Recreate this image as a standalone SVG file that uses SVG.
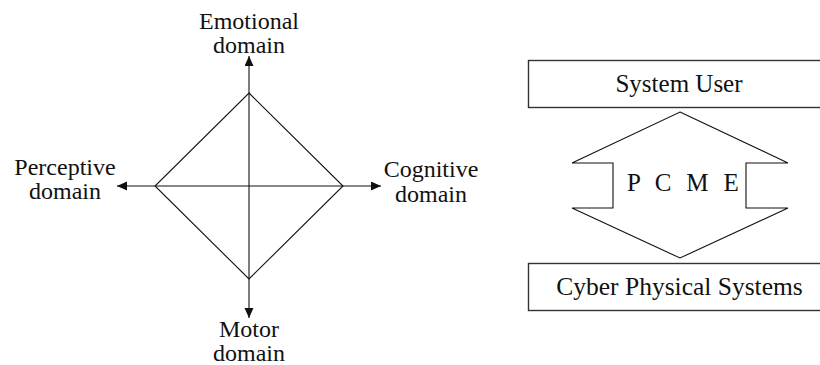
<svg xmlns="http://www.w3.org/2000/svg" width="820" height="365" viewBox="0 0 820 365">
  <style>
    text { font-family: "Liberation Serif", "DejaVu Serif", "Times New Roman", serif; font-size: 24px; fill: #111; }
    .mid { text-anchor: middle; }
    .big { font-size: 25px; }
    .ln { stroke: #111; stroke-width: 1.1; fill: none; }
    .box { stroke: #333; stroke-width: 1.4; fill: #fff; }
  </style>
  <defs>
    <marker id="tip" markerUnits="userSpaceOnUse" markerWidth="11" markerHeight="10" refX="10" refY="4.5" orient="auto-start-reverse">
      <path d="M0,0 L10,4.5 L0,9 z" fill="#111"/>
    </marker>
  </defs>
  <rect width="820" height="365" fill="#fff"/>

  <!-- domain axes -->
  <g id="connectors">
    <line class="ln" x1="249" y1="318" x2="249" y2="56" marker-start="url(#tip)" marker-end="url(#tip)"/>
    <line class="ln" x1="117" y1="186" x2="381" y2="186" marker-start="url(#tip)" marker-end="url(#tip)"/>
  </g>

  <!-- diamond spanning the four domains -->
  <g id="diamond">
    <polygon class="ln" points="249,93 343,186 249,279 155,186"/>
  </g>

  <g id="emotional">
    <text class="mid" x="249" y="29">Emotional</text>
    <text class="mid" x="249" y="53">domain</text>
  </g>
  <g id="perceptive">
    <text class="mid" x="65" y="175">Perceptive</text>
    <text class="mid" x="65" y="199">domain</text>
  </g>
  <g id="cognitive">
    <text class="mid" x="431" y="177">Cognitive</text>
    <text class="mid" x="431" y="202">domain</text>
  </g>
  <g id="motor">
    <text class="mid" x="249" y="337">Motor</text>
    <text class="mid" x="249" y="361">domain</text>
  </g>

  <!-- user / CPS exchange -->
  <g id="system-user">
    <rect class="box" x="528.5" y="60.5" width="300" height="47"/>
    <text class="mid big" x="679" y="92">System User</text>
  </g>
  <g id="pcme">
    <polygon class="ln" points="680,112 788,163 746,163 746,208 788,208 680,258 572,208 613,208 613,163 572,163"/>
    <text class="big" x="627" y="191" letter-spacing="4.3">P C M E</text>
  </g>
  <g id="cyber-physical-systems">
    <rect class="box" x="528.5" y="263.5" width="300" height="47"/>
    <text class="mid big" x="679.5" y="295" style="font-size:25.5px">Cyber Physical Systems</text>
  </g>
</svg>
